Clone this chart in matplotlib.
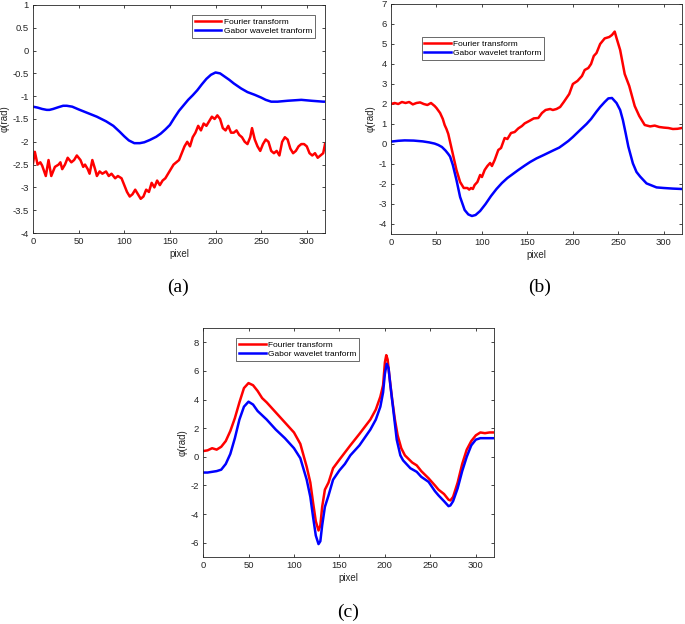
import matplotlib
matplotlib.use("Agg")
import matplotlib.pyplot as plt

# ---------------- data (a) ----------------
a_blue_x = [0, 5, 10, 15, 18, 22, 28, 33, 37, 43, 50, 60, 70, 80, 88, 95, 100, 105, 111, 117, 122,
            128, 135, 140, 145, 150, 155, 160, 165, 170, 175, 180, 185, 190, 195, 200, 205, 210,
            215, 220, 228, 235, 243, 250, 255, 261, 268, 279, 294, 305, 318, 320]
a_blue_y = [-1.23, -1.25, -1.28, -1.30, -1.30, -1.28, -1.24, -1.21, -1.21, -1.23, -1.29, -1.37,
            -1.45, -1.55, -1.65, -1.78, -1.88, -1.97, -2.03, -2.03, -2.01, -1.96, -1.89, -1.82,
            -1.73, -1.63, -1.47, -1.32, -1.20, -1.08, -0.98, -0.87, -0.74, -0.62, -0.53, -0.48,
            -0.50, -0.57, -0.64, -0.72, -0.83, -0.91, -0.97, -1.03, -1.08, -1.12, -1.12, -1.10,
            -1.08, -1.10, -1.12, -1.12]
a_red_x = [0, 2, 5, 8, 10, 14, 17, 20, 24, 28, 30, 32, 35, 38, 42, 45, 48, 52, 55, 57, 60, 62, 65, 68,
           70, 73, 76, 80, 83, 86, 90, 93, 97, 100, 103, 106, 109, 112, 115, 118, 121, 124, 127,
           130, 133, 136, 139, 142, 145, 148, 151, 154, 157, 160, 163, 166, 169, 172, 175, 178,
           181, 184, 187, 190, 193, 196, 199, 202, 205, 208, 211, 214, 217, 220, 223, 226, 229,
           232, 235, 238, 240, 243, 246, 249, 252, 255, 258, 261, 264, 267, 270, 273, 276, 279,
           282, 285, 288, 291, 294, 297, 300, 303, 306, 309, 312, 315, 318, 320]
a_red_y = [-2.47, -2.22, -2.50, -2.45, -2.52, -2.75, -2.40, -2.75, -2.55, -2.50, -2.45, -2.60, -2.50,
           -2.35, -2.45, -2.40, -2.30, -2.40, -2.55, -2.50, -2.60, -2.70, -2.40, -2.60, -2.75,
           -2.65, -2.70, -2.65, -2.75, -2.70, -2.80, -2.75, -2.80, -2.95, -3.10, -3.20, -3.15,
           -3.05, -3.15, -3.25, -3.20, -3.05, -3.10, -2.90, -3.00, -2.85, -2.95, -2.85, -2.80,
           -2.70, -2.60, -2.50, -2.45, -2.40, -2.25, -2.10, -2.00, -2.10, -1.90, -1.80, -1.65,
           -1.75, -1.60, -1.65, -1.55, -1.45, -1.50, -1.42, -1.50, -1.70, -1.75, -1.65, -1.80,
           -1.80, -1.75, -1.85, -1.90, -2.00, -2.05, -1.90, -1.70, -1.95, -2.10, -2.20, -2.05,
           -1.95, -2.00, -2.20, -2.25, -2.20, -2.30, -2.00, -1.90, -1.95, -2.15, -2.25, -2.20,
           -2.10, -2.05, -2.05, -2.10, -2.25, -2.30, -2.25, -2.35, -2.30, -2.25, -2.05]

# ---------------- data (b) ----------------
b_blue_x = [0, 8, 15, 25, 35, 42, 48, 52, 56, 60, 63, 65, 68, 72, 76, 81, 85, 89, 93, 98, 104, 110,
            116, 122, 128, 134, 140, 147, 153, 160, 168, 178, 185, 189, 195, 200, 208, 215, 220,
            226, 230, 235, 239, 243, 248, 252, 255, 258, 261, 266, 270, 274, 281, 292, 300, 310, 320]
b_blue_y = [0.12, 0.16, 0.18, 0.17, 0.13, 0.08, 0.02, -0.05, -0.15, -0.33, -0.50, -0.63, -1.05,
            -1.80, -2.65, -3.30, -3.52, -3.60, -3.55, -3.35, -3.00, -2.60, -2.25, -1.95, -1.70,
            -1.50, -1.30, -1.08, -0.90, -0.72, -0.55, -0.33, -0.18, -0.05, 0.15, 0.35, 0.70,
            1.00, 1.25, 1.62, 1.85, 2.10, 2.28, 2.30, 2.05, 1.70, 1.20, 0.55, -0.13, -0.97,
            -1.40, -1.63, -1.97, -2.17, -2.20, -2.23, -2.25]
b_red_x = [0, 4, 8, 12, 16, 20, 24, 28, 32, 36, 40, 44, 48, 50, 54, 57, 59, 61, 63, 66, 68, 70, 72,
           74, 76, 80, 84, 86, 88, 90, 92, 95, 98, 100, 103, 106, 109, 111, 114, 118, 121, 125,
           128, 132, 136, 140, 144, 147, 152, 157, 162, 166, 170, 175, 178, 182, 186, 190, 193,
           196, 200, 205, 210, 213, 217, 220, 223, 226, 230, 235, 240, 243, 246, 248, 252, 257,
           262, 268, 273, 279, 285, 290, 295, 300, 305, 310, 315, 320]
b_red_y = [2.00, 2.05, 2.00, 2.10, 2.05, 2.10, 1.98, 2.05, 2.08, 2.00, 1.95, 2.05, 1.90, 1.80, 1.55,
           1.25, 0.95, 0.75, 0.50, -0.10, -0.50, -0.90, -1.30, -1.60, -1.90, -2.20, -2.20, -2.28,
           -2.20, -2.25, -2.05, -1.90, -1.55, -1.65, -1.30, -1.10, -0.95, -1.10, -0.80, -0.30,
           -0.20, 0.30, 0.25, 0.55, 0.60, 0.78, 0.90, 1.03, 1.15, 1.28, 1.30, 1.55, 1.70, 1.75,
           1.70, 1.75, 1.85, 2.10, 2.30, 2.50, 3.00, 3.15, 3.40, 3.70, 3.80, 4.00, 4.40, 4.55,
           5.00, 5.28, 5.35, 5.45, 5.62, 5.30, 4.70, 3.50, 2.90, 1.90, 1.40, 0.95, 0.88, 0.92,
           0.85, 0.82, 0.80, 0.75, 0.76, 0.80]

# ---------------- data (c) ----------------
c_red_x = [0, 5, 10, 15, 20, 25, 30, 35, 40, 45, 50, 55, 60, 65, 70, 80, 90, 100, 107, 114, 118, 121,
           124, 127, 129, 131, 134, 138, 143, 150, 156, 162, 172, 184, 190, 195, 198, 200, 201.5,
           203, 205, 208, 211, 214, 218, 222, 230, 235, 240, 248, 255, 259, 265, 270, 272, 275,
           280, 285, 290, 295, 300, 305, 310, 315, 320]
c_red_y = [0.40, 0.45, 0.60, 0.50, 0.70, 1.10, 1.80, 2.70, 3.80, 4.80, 5.15, 5.00, 4.60, 4.10, 3.80,
           3.10, 2.40, 1.70, 0.90, -0.70, -1.80, -3.20, -4.50, -5.15, -4.80, -3.50, -2.30, -1.80,
           -0.80, -0.20, 0.30, 0.80, 1.60, 2.60, 3.30, 4.20, 5.00, 6.60, 7.10, 6.80, 5.60, 4.00,
           2.60, 1.50, 0.60, 0.10, -0.40, -0.60, -1.00, -1.50, -2.00, -2.30, -2.60, -3.00, -3.05,
           -2.80, -1.80, -0.50, 0.50, 1.10, 1.50, 1.70, 1.65, 1.70, 1.70]
c_blue_x = [0, 5, 10, 15, 20, 25, 30, 35, 40, 45, 50, 55, 60, 70, 80, 90, 100, 107, 114, 118, 121,
            124, 127, 129, 131, 134, 138, 143, 150, 156, 162, 172, 184, 190, 195, 198, 200, 202,
            204, 206, 209, 213, 217, 220, 228, 235, 240, 248, 255, 259, 265, 270, 272, 275, 280,
            285, 290, 295, 300, 305, 310, 320]
c_blue_y = [-1.10, -1.10, -1.05, -1.00, -0.90, -0.50, 0.20, 1.30, 2.60, 3.50, 3.85, 3.65, 3.20,
            2.60, 1.90, 1.30, 0.60, -0.10, -1.60, -2.80, -4.20, -5.50, -6.10, -5.90, -4.80, -3.50,
            -2.70, -1.60, -0.95, -0.50, 0.10, 0.80, 1.90, 2.60, 3.50, 4.50, 5.80, 6.50, 6.20, 5.00,
            3.40, 1.20, 0.10, -0.25, -0.80, -1.05, -1.40, -1.75, -2.40, -2.70, -3.10, -3.45, -3.40,
            -3.10, -2.20, -1.00, 0.00, 0.80, 1.20, 1.30, 1.30, 1.30]

labels = ["Fourier transform", "Gabor wavelet tranform"]
captions = ["(a)", "(b)", "(c)"]

RED = "#ff0000"
BLUE = "#0000ff"
TICKC = "#262626"

plt.rcParams['font.family'] = ['Liberation Sans', 'DejaVu Sans']

fig = plt.figure(figsize=(6.85, 6.24), dpi=100)

specs = [
    dict(rect=[0.0482, 0.6266, 0.4263, 0.3654], red=(a_red_x, a_red_y), blue=(a_blue_x, a_blue_y),
         ylim=(-4, 1), yticks=[-4, -3.5, -3, -2.5, -2, -1.5, -1, -0.5, 0, 0.5, 1],
         leg=(0.545, 0.955), cap=(178, 287)),
    dict(rect=[0.5708, 0.6250, 0.4248, 0.3686], red=(b_red_x, b_red_y), blue=(b_blue_x, b_blue_y),
         ylim=(-4.5, 7), yticks=list(range(-4, 8)),
         leg=(0.105, 0.855), cap=(540, 287)),
    dict(rect=[0.2964, 0.1074, 0.4248, 0.3670], red=(c_red_x, c_red_y), blue=(c_blue_x, c_blue_y),
         ylim=(-7, 9), yticks=list(range(-6, 9, 2)),
         leg=(0.115, 0.955), cap=(348, 612)),
]

for s, cap in zip(specs, captions):
    ax = fig.add_axes(s['rect'])
    ax.plot(s['red'][0], s['red'][1], color=RED, lw=1.8, label=labels[0], solid_joinstyle='round')
    ax.plot(s['blue'][0], s['blue'][1], color=BLUE, lw=1.8, label=labels[1], solid_joinstyle='round')
    ax.set_xlim(0, 320)
    ax.set_ylim(*s['ylim'])
    ax.set_xticks([0, 50, 100, 150, 200, 250, 300])
    ax.set_yticks(s['yticks'])
    ax.set_yticklabels([f"{v:g}" for v in s['yticks']])
    ax.tick_params(direction='in', top=True, right=True, labelsize=6.8, colors=TICKC,
                   length=2.5, width=0.6, pad=3)
    for sp in ax.spines.values():
        sp.set_color(TICKC)
        sp.set_linewidth(0.6)
    ax.set_xlabel("pixel", fontsize=7, color=TICKC, labelpad=2)
    ax.set_ylabel("φ(rad)", fontsize=7, color=TICKC, labelpad=2)
    leg = ax.legend(loc='upper left', bbox_to_anchor=s['leg'], fontsize=6, frameon=True,
                    fancybox=False, edgecolor=TICKC, handlelength=3.2, borderpad=0.3,
                    labelspacing=0.2, handletextpad=0.3, borderaxespad=0)
    leg.get_frame().set_linewidth(0.6)
    cx, cy = s['cap']
    fig.text(cx / 685, 1 - cy / 624, cap, ha='center', va='center', fontsize=14,
             family=['Liberation Serif', 'DejaVu Serif'])

fig.savefig("out.png", dpi=100)
